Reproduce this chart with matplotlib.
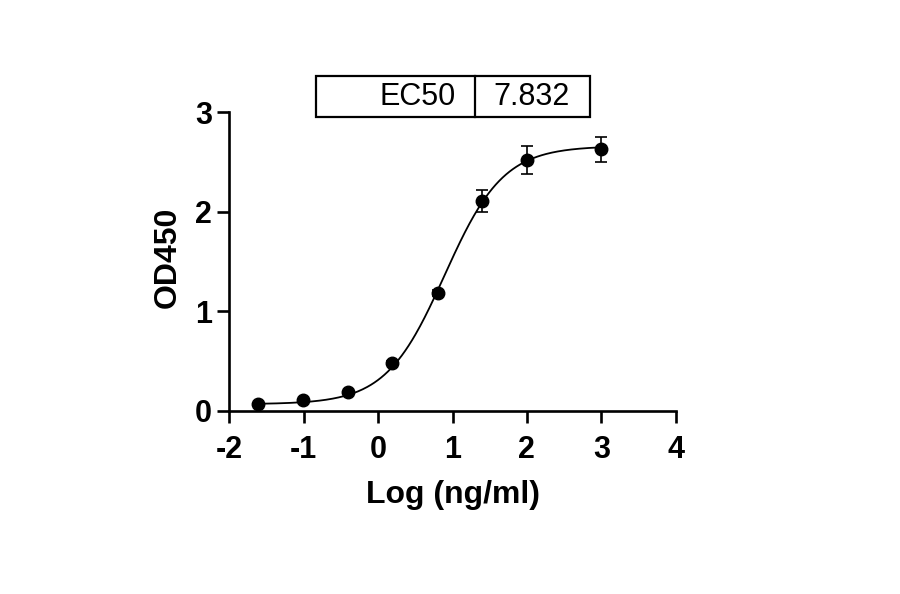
import numpy as np
import matplotlib
matplotlib.use('Agg')
import matplotlib.pyplot as plt
from matplotlib.patches import Rectangle

# 数据 (log浓度, OD450均值, SD)
log_conc = [-1.61, -1.01, -0.41, 0.19, 0.80, 1.40, 2.00, 3.00]
od450 = [0.067, 0.105, 0.188, 0.48, 1.18, 2.11, 2.52, 2.63]
od_sd = [0.01, 0.01, 0.01, 0.02, 0.03, 0.11, 0.14, 0.125]

# 四参数拟合结果
ec50 = 7.832
bottom = 0.065
top = 2.66
hill = 1.1

x_ticks = [-2, -1, 0, 1, 2, 3, 4]
y_ticks = [0, 1, 2, 3]

def f(x, b, t, logec, h):
    return b + (t - b) / (1 + 10 ** ((logec - x) * h))

plt.rcParams['font.family'] = ['Liberation Sans', 'DejaVu Sans']
plt.rcParams['axes.unicode_minus'] = False

fig = plt.figure(figsize=(9, 5.94), dpi=100)
ax = fig.add_axes([0.2548, 0.3086, 0.496, 0.5024])

x_fit = np.linspace(log_conc[0], log_conc[-1], 300)
ax.plot(x_fit, f(x_fit, bottom, top, np.log10(ec50), hill), color='black', lw=1.3, zorder=2)
ax.errorbar(log_conc, od450, yerr=od_sd, fmt='o', color='black', ms=9,
            elinewidth=1.2, capsize=4, capthick=1.2, zorder=3)

ax.set_xlim(-2, 4)
ax.set_ylim(0, 3)
ax.set_xticks(x_ticks)
ax.set_yticks(y_ticks)
for s in ['top', 'right']:
    ax.spines[s].set_visible(False)
for s in ['left', 'bottom']:
    ax.spines[s].set_linewidth(1.9)
ax.tick_params(axis='both', length=8.5, width=1.9, labelsize=22)
ax.tick_params(axis='x', pad=9)
ax.tick_params(axis='y', pad=4)
for lab in ax.get_xticklabels() + ax.get_yticklabels():
    lab.set_fontweight('bold')
ax.set_xlabel('Log (ng/ml)', fontsize=23, fontweight='bold', labelpad=11)
ax.set_ylabel('OD450', fontsize=23, fontweight='bold')
ax.yaxis.set_label_coords(-0.104, 0.515)

# EC50 表格
fig.patches.append(Rectangle((0.351, 0.8035), 0.3046, 0.0691, transform=fig.transFigure,
                             fill=False, lw=1.6, edgecolor='black'))
fig.add_artist(plt.Line2D([0.5278, 0.5278], [0.8035, 0.8726], transform=fig.transFigure,
                          color='black', lw=1.6))
fig.text(0.5067, 0.836, 'EC50', ha='right', va='center', fontsize=22)
fig.text(0.5911, 0.836, '%.3f' % ec50, ha='center', va='center', fontsize=22)

fig.savefig('out.png', dpi=100)
